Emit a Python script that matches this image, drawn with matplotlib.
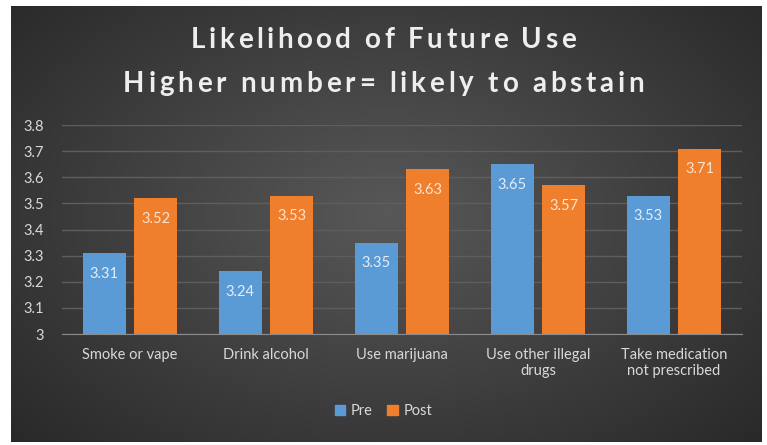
import numpy as np
import matplotlib
matplotlib.use("Agg")
import matplotlib.pyplot as plt
from matplotlib.patches import Patch
from matplotlib.font_manager import findfont, FontProperties
from matplotlib.ft2font import FT2Font

categories = ["Smoke or vape", "Drink alcohol", "Use marijuana",
              "Use other illegal\ndrugs", "Take medication\nnot prescribed"]
pre = [3.31, 3.24, 3.35, 3.65, 3.53]
post = [3.52, 3.53, 3.63, 3.57, 3.71]
yticks = [3, 3.1, 3.2, 3.3, 3.4, 3.5, 3.6, 3.7, 3.8]
ytick_labels = ["3", "3.1", "3.2", "3.3", "3.4", "3.5", "3.6", "3.7", "3.8"]
title_lines = ["Likelihood of Future Use", "Higher number= likely to abstain"]

W, H = 767, 445
DPI = 100
fig = plt.figure(figsize=(W / DPI, H / DPI), dpi=DPI, facecolor="white")
plt.rcParams["font.family"] = ["Lato", "DejaVu Sans"]

# dark gradient background panel
bx0, bx1, by0, by1 = 11, 762, 6, 442
bg = fig.add_axes([bx0 / W, 1 - by1 / H, (bx1 - bx0) / W, (by1 - by0) / H])
yy, xx = np.mgrid[0:200, 0:300]
cx, cy = 150, 95
r = np.sqrt(((xx - cx) / 160.0) ** 2 + ((yy - cy) / 120.0) ** 2)
r = np.clip(r, 0, 1.3) / 1.3
c_center = np.array([0x58, 0x58, 0x58]) / 255
c_edge = np.array([0x28, 0x28, 0x28]) / 255
img = c_center[None, None, :] * (1 - r[..., None]) + c_edge[None, None, :] * r[..., None]
bg.imshow(img, aspect="auto", extent=[0, 1, 0, 1])
bg.axis("off")

# plot axes
left, right, top, bottom = 62, 742, 125, 334
ax = fig.add_axes([left / W, 1 - bottom / H, (right - left) / W, (bottom - top) / H])
ax.set_facecolor("none")
x = np.arange(len(categories))
bw = 0.316
off = (bw + 0.066) / 2
b1 = ax.bar(x - off, pre, bw, bottom=0, color="#5B9BD5", zorder=3)
b2 = ax.bar(x + off, post, bw, bottom=0, color="#F07F2D", zorder=3)
ax.set_ylim(3, 3.8)
ax.set_xlim(-0.5, len(categories) - 0.5)
ax.set_yticks(yticks)
ax.set_yticklabels(ytick_labels)
ax.set_xticks(x)
ax.set_xticklabels(categories)
ax.tick_params(axis="both", length=0, colors="#d9d9d9", labelsize=10.5)
ax.tick_params(axis="y", pad=13)
ax.tick_params(axis="x", pad=10)
ax.grid(axis="y", color="#5e5e5e", linewidth=1, zorder=0)
for s in ["top", "right", "left"]:
    ax.spines[s].set_visible(False)
ax.spines["bottom"].set_color("#8c8c8c")
ax.spines["bottom"].set_zorder(4)

for bars, vals, col in [(b1, pre, "#e3ecf7"), (b2, post, "#fde3cf")]:
    for rect, v in zip(bars, vals):
        ax.text(rect.get_x() + rect.get_width() / 2, v - 0.08, f"{v:.2f}",
                ha="center", va="center", color=col, fontsize=10.5, zorder=5)

# title with letter spacing, drawn character by character
tsize = 20
fp = FontProperties(family="Lato", weight="bold", size=tsize)
ft = FT2Font(findfont(fp))
ft.set_size(tsize, DPI)


def spaced_title(text, ycap_center_px, track):
    advs = []
    for ch in text:
        g = ft.load_char(ord(ch))
        advs.append(g.linearHoriAdvance / 65536.0)
    total = sum(advs) + track * (len(text) - 1)
    xpos = W / 2 - total / 2
    for ch, a in zip(text, advs):
        if ch != " ":
            fig.text(xpos / W, 1 - ycap_center_px / H, ch, ha="left",
                     va="center_baseline", color="#eeeeee", fontproperties=fp)
        xpos += a + track


spaced_title(title_lines[0], 37, 3.5)
spaced_title(title_lines[1], 81, 3.8)

handles = [Patch(color="#5B9BD5", label="Pre"), Patch(color="#F07F2D", label="Post")]
leg = fig.legend(handles=handles, loc="center", bbox_to_anchor=(0.5, 1 - 411 / H),
                 ncol=2, frameon=False, fontsize=10.5, handlelength=0.7,
                 handleheight=0.7, handletextpad=0.4, columnspacing=1.0)
for t in leg.get_texts():
    t.set_color("#d9d9d9")

fig.savefig("out.png", dpi=DPI, facecolor="white")
